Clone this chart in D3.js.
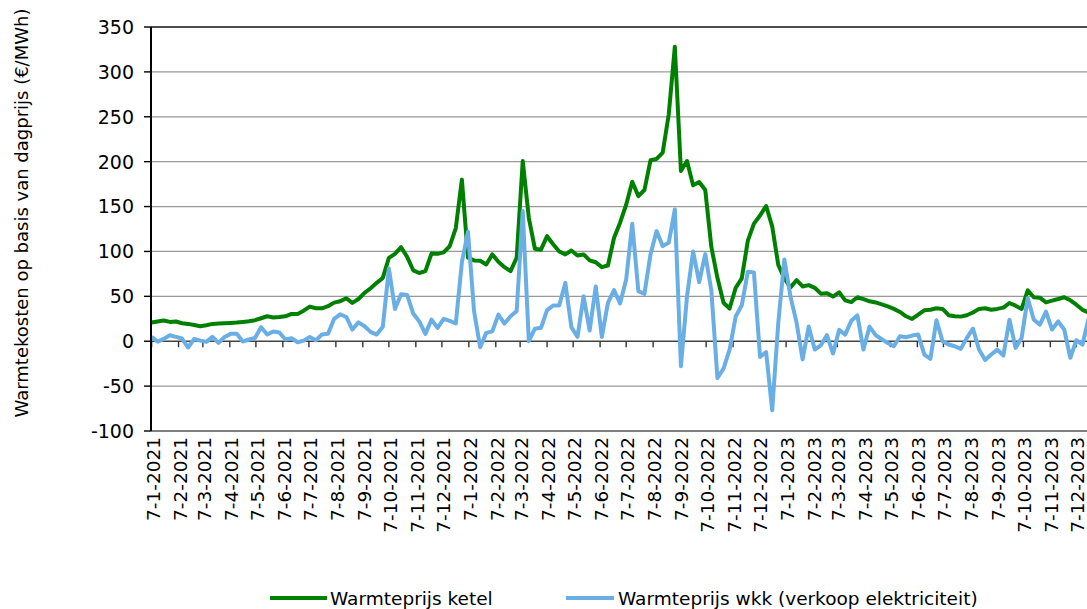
<!DOCTYPE html>
<html>
<head>
<meta charset="utf-8">
<script src="https://cdn.jsdelivr.net/npm/d3@7"></script>
<style>
  body { margin: 0; background: #fff; }
  svg { display: block; }
  text { font-family: "DejaVu Sans", Verdana, sans-serif; fill: #000; }
</style>
</head>
<body>
<div id="chart"></div>
<script>
// weekly values, first week 7-1-2021
var startDate = new Date(2021, 0, 7);

var ketel = [
  20.8, 22, 23, 21.5, 22, 20, 19.3, 18, 16.7, 17.8,
  19.3, 19.7, 20, 20.4, 20.8, 21.5, 22.3, 23.4, 25.6, 27.8,
  26.4, 27, 27.8, 30.4, 30.4, 34, 38.6, 36.7, 36.7, 39,
  43, 44.5, 47.9, 42.7, 47, 53.8, 59, 65, 70.5, 92.8,
  97.3, 104.7, 94, 79, 76, 78, 97.6, 97.3, 99, 105.8,
  126, 180, 93, 90, 89.6, 85.5, 96.7, 88.5, 82.5, 78,
  93, 200.7, 137.5, 103, 102, 117, 108, 100, 96.7, 101,
  95.5, 96.7, 90, 88, 82.5, 84.4, 115, 132, 152, 177.7,
  161.7, 168.4, 201.5, 203, 210, 252.8, 328, 189.6, 200.7, 173.6,
  177.3, 168.4, 105, 70.6, 42.8, 36.4, 59.5, 70, 112, 131,
  140, 150.6, 128, 85, 70, 60, 68, 61, 62.5, 59.5,
  53, 53.5, 49.7, 54.5, 45.5, 43.6, 49, 46.8, 44.5, 43.2,
  41, 38.8, 36, 32.6, 27.8, 24.8, 29.6, 34.4, 35, 36.7,
  36, 29, 27.8, 27.4, 28.9, 32, 36, 36.7, 35, 36,
  37.4, 42.6, 39.6, 36, 56.7, 49, 48.5, 43.3, 45.2, 47,
  49, 45.6, 40.7, 35, 32
];

var wkk = [
  5, -0.5, 2.6, 6.7, 4.8, 3, -7, 2.6, 0.7, -0.7,
  4.8, -1.9, 4.8, 8.2, 8.2, -0.4, 1.9, 3.7, 15.6, 7.4,
  10.8, 9.7, 1.9, 3.3, -1.1, 0.7, 4.8, 1.1, 7.4, 8.2,
  24.9, 30, 27, 13, 21, 16.7, 10.4, 7.4, 16, 81,
  36, 52.3, 51.6, 30.8, 22, 8.2, 24, 14.8, 24.9, 22.6,
  19.7, 88, 122, 33.5, -6.7, 9.3, 11, 29.7, 19.7, 27.9,
  33.5, 145, 0, 14, 14.9, 34.6, 39.8, 39.8, 65, 15.6,
  4.8, 50, 11.9, 61, 4.8, 42.8, 57, 42, 68.8, 130.9,
  55.8, 52.8, 96.7, 122.7, 106, 109.7, 146.8, -27.9, 50, 100,
  65.8, 97, 56.5, -41, -30.5, -9.3, 27.5, 40, 77.5, 76.5,
  -17.5, -12, -77, 20.4, 91, 50, 21, -20.2, 16.3, -9.2,
  -4.6, 6.8, -13.7, 12.6, 7.4, 22.7, 28.7, -9.3, 16.3, 6.8,
  2.2, -1.9, -5.6, 5.6, 4.4, 6.3, 7.4, -14.8, -19.6, 23.3,
  0, -3.7, -5.6, -8.5, 3.7, 14, -9.3, -21, -14.8, -9.3,
  -15.9, 24, -7.4, 3.7, 48, 24, 18.5, 33, 13, 22,
  13, -18.5, 1.1, -3.7, 25
];

var seriesNames = ["Warmteprijs ketel", "Warmteprijs wkk (verkoop elektriciteit)"];
var seriesColors = ["#008000", "#6aaee6"];
var yTicks = [-100, -50, 0, 50, 100, 150, 200, 250, 300, 350];
var yTitle = "Warmtekosten op basis van dagprijs (€/MWh)";

(function () {
  var W = 1087, H = 609;
  var plotLeft = 151, plotTop = 27, plotBottom = 431;

  var svg = d3.select("#chart").append("svg")
    .attr("width", W)
    .attr("height", H);

  var dates = ketel.map(function (d, i) { return d3.timeDay.offset(startDate, 7 * i); });

  var x = d3.scaleTime()
    .domain([startDate, new Date(2023, 11, 7)])
    .range([151.6, 1076.4]);

  var y = d3.scaleLinear()
    .domain([-100, 350])
    .range([plotBottom, plotTop]);

  // gridlines
  svg.append("g")
    .selectAll("line")
    .data(yTicks)
    .enter()
    .append("line")
    .attr("x1", plotLeft)
    .attr("x2", W)
    .attr("y1", function (d) { return y(d); })
    .attr("y2", function (d) { return y(d); })
    .attr("stroke", function (d) {
      if (d == 350) return "#111";
      if (d == -100) return "#555";
      if (d == 0) return "#444";
      return "#999";
    })
    .attr("stroke-width", function (d) { return (d == 350 || d == 0) ? 1.6 : 1.3; });

  // x axis ticks on the zero line, labels below the plot
  var tickDates = d3.timeMonth.range(new Date(2021, 0, 1), new Date(2024, 0, 1))
    .map(function (d) { return new Date(d.getFullYear(), d.getMonth(), 7); });

  var fmt = function (d) { return d.getDate() + "-" + (d.getMonth() + 1) + "-" + d.getFullYear(); };

  svg.append("g")
    .selectAll("line")
    .data(tickDates)
    .enter()
    .append("line")
    .attr("x1", function (d) { return x(d); })
    .attr("x2", function (d) { return x(d); })
    .attr("y1", y(0))
    .attr("y2", y(0) + 6)
    .attr("stroke", "#333")
    .attr("stroke-width", 1.4);

  svg.append("g")
    .selectAll("text")
    .data(tickDates)
    .enter()
    .append("text")
    .attr("transform", function (d) { return "translate(" + (x(d) + 1.5) + "," + 437 + ") rotate(-90)"; })
    .attr("text-anchor", "end")
    .attr("dy", "0.35em")
    .attr("font-size", 18.5)
    .text(fmt);

  // series lines
  var line = function (vals) {
    return d3.line()
      .x(function (d, i) { return x(dates[i]); })
      .y(function (d) { return y(d); })(vals);
  };

  svg.append("clipPath").attr("id", "plotclip")
    .append("rect").attr("x", plotLeft).attr("y", 0).attr("width", W - plotLeft).attr("height", H);

  var plot = svg.append("g").attr("clip-path", "url(#plotclip)");

  [ketel, wkk].forEach(function (vals, k) {
    plot.append("path")
      .attr("d", line(vals))
      .attr("fill", "none")
      .attr("stroke", seriesColors[k])
      .attr("stroke-width", 4)
      .attr("stroke-linejoin", "round");
  });

  // y axis
  var yAxis = svg.append("g");
  yAxis.append("line")
    .attr("x1", plotLeft).attr("x2", plotLeft)
    .attr("y1", plotTop).attr("y2", plotBottom)
    .attr("stroke", "#000")
    .attr("stroke-width", 2);

  yAxis.selectAll(".yt")
    .data(yTicks)
    .enter()
    .append("line")
    .attr("class", "yt")
    .attr("x1", plotLeft - 7).attr("x2", plotLeft)
    .attr("y1", function (d) { return y(d); })
    .attr("y2", function (d) { return y(d); })
    .attr("stroke", "#000")
    .attr("stroke-width", 1.4);

  yAxis.selectAll("text")
    .data(yTicks)
    .enter()
    .append("text")
    .attr("x", 134)
    .attr("y", function (d) { return y(d); })
    .attr("dy", "0.36em")
    .attr("text-anchor", "end")
    .attr("font-size", 19)
    .text(function (d) { return d; });

  svg.append("text")
    .attr("transform", "translate(22,213) rotate(-90)")
    .attr("text-anchor", "middle")
    .attr("dy", "0.35em")
    .attr("font-size", 18)
    .text(yTitle);

  // legend
  var legendX = [270, 566];
  var legend = svg.append("g");
  seriesNames.forEach(function (name, k) {
    legend.append("line")
      .attr("x1", legendX[k]).attr("x2", legendX[k] + 57 - (k * 9))
      .attr("y1", 598).attr("y2", 598)
      .attr("stroke", seriesColors[k])
      .attr("stroke-width", 4);
    legend.append("text")
      .attr("x", legendX[k] + 60 - (k * 8))
      .attr("y", 598)
      .attr("dy", "0.36em")
      .attr("font-size", 18.5)
      .text(name);
  });
})();
</script>
</body>
</html>
